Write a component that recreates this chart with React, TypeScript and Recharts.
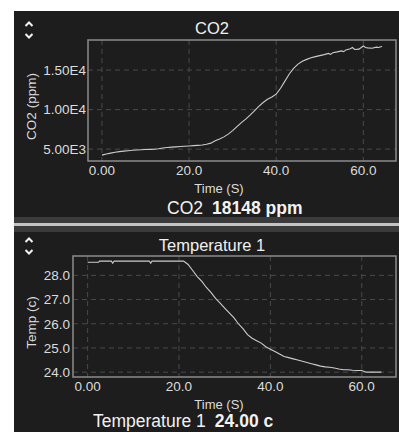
import React from 'react';
import { LineChart, Line, XAxis, YAxis, CartesianGrid, ReferenceArea } from 'recharts';

// time axis shared by both panels
const timeTicks = [0, 20, 40, 60];
const timeDomain = [-3.2, 67.5];

// CO2 panel
const co2Ticks = [5000, 10000, 15000];
const co2Domain = [3500, 18800];
const co2Times = [
  0, 1, 2, 3, 4, 5, 6, 7, 8, 9, 10, 11, 12, 13, 14, 15, 16, 17, 18, 19, 20, 21, 22, 23, 24, 25,
  26, 27, 28, 29, 30, 31, 32, 33, 34, 35, 36, 37, 38, 39, 40, 41, 42, 43, 44, 45, 46, 47, 48,
  49, 50, 51, 52, 52.5, 53, 54, 55, 55.5, 56, 57, 57.5, 58, 59, 60, 60.5, 61, 62, 63, 63.5, 64, 64.3,
];
const co2Values = [
  4240, 4380, 4500, 4600, 4680, 4750, 4800, 4850, 4890, 4920, 4950, 4970, 4990, 5050, 5150, 5200,
  5250, 5290, 5330, 5370, 5400, 5440, 5480, 5530, 5620, 5760, 6050, 6280, 6550, 6900, 7350, 7850,
  8350, 8800, 9300, 9850, 10400, 10900, 11300, 11600, 11950, 12700, 13600, 14500, 15200, 15750,
  16100, 16350, 16550, 16700, 16820, 16950, 17100, 16980, 17200, 17300, 17420, 17330, 17550, 17700,
  17850, 17600, 17650, 18050, 17850, 17800, 17750, 17900, 17850, 17950, 17980,
];

// Temperature panel
const tempTicks = [24, 25, 26, 27, 28];
const tempDomain = [23.8, 28.8];
const tempTimes = [
  0, 2.4, 2.6, 5.2, 5.5, 5.8, 13.5, 13.8, 14.1, 21, 22, 23, 24, 25, 26, 27, 28, 29, 30, 31, 32,
  33, 34, 35, 36, 37, 38, 39, 40, 41, 42, 43, 44, 45, 46, 47, 48, 49, 50, 51, 52, 53, 54, 55, 56,
  57, 58, 59, 60, 61, 62, 63, 64.3,
];
const tempValues = [
  28.54, 28.54, 28.59, 28.59, 28.5, 28.59, 28.59, 28.5, 28.59, 28.59, 28.45, 28.2, 27.95, 27.75,
  27.5, 27.3, 27.05, 26.85, 26.65, 26.45, 26.25, 26.0, 25.8, 25.55, 25.4, 25.3, 25.2, 25.05, 24.95,
  24.85, 24.75, 24.65, 24.6, 24.55, 24.5, 24.45, 24.4, 24.35, 24.3, 24.25, 24.22, 24.2, 24.17, 24.13,
  24.1, 24.1, 24.08, 24.07, 24.07, 24.0, 24.0, 24.0, 24.0,
];

const co2Data = co2Times.map((t, i) => ({ t, v: co2Values[i] }));
const tempData = tempTimes.map((t, i) => ({ t, v: tempValues[i] }));

const BG = '#1d1d1d';
const FONT = '"Liberation Sans", Arial, sans-serif';
const TICK = { fill: '#dcdcdc', fontSize: 13.5, fontFamily: FONT };

const fmtTime = (v: number) => v.toPrecision(3);
const fmtSci = (v: number) => v.toExponential(2).toUpperCase().replace('E+', 'E');
const fmtTemp = (v: number) => v.toFixed(1);

const XTitle = ({ viewBox, dx }: any) => (
  <text
    x={viewBox.x + viewBox.width / 2 + dx}
    y={viewBox.y + 27}
    fill="#dcdcdc"
    fontSize={13}
    fontFamily={FONT}
    textAnchor="middle"
    dominantBaseline="central"
  >
    Time (S)
  </text>
);

const YTitle = ({ viewBox, text }: any) => {
  const x = viewBox.x + 17.5;
  const y = viewBox.y + viewBox.height / 2 + 6;
  return (
    <text
      x={x}
      y={y}
      fill="#dcdcdc"
      fontSize={13.5}
      fontFamily={FONT}
      textAnchor="middle"
      dominantBaseline="central"
      transform={`rotate(-90 ${x} ${y})`}
    >
      {text}
    </text>
  );
};

const Chevrons = ({ top }: { top: number }) => (
  <svg style={{ position: 'absolute', left: 10, top }} width={10} height={18}>
    <polyline points="1.5,5 5,1.5 8.5,5" fill="none" stroke="#f2f2f2" strokeWidth={2} />
    <polyline points="1.5,13 5,16.5 8.5,13" fill="none" stroke="#f2f2f2" strokeWidth={2} />
  </svg>
);

const Panel = ({ title, titleY, chevTop, height, children, valueLabel, value, valueLeft, valueY }: any) => (
  <div style={{ position: 'relative', width: 385, height, background: BG, overflow: 'hidden' }}>
    <div
      style={{
        position: 'absolute', left: 0, width: 396, top: titleY - 10, height: 20, lineHeight: '20px',
        textAlign: 'center', color: '#f0f0f0', fontSize: 16.5, fontFamily: FONT,
      }}
    >
      {title}
    </div>
    <Chevrons top={chevTop} />
    {children}
    <div
      style={{
        position: 'absolute', left: valueLeft, top: valueY - 10, height: 20, lineHeight: '20px',
        color: '#f2f2f2', fontSize: 17.5, fontFamily: FONT, whiteSpace: 'nowrap',
      }}
    >
      {valueLabel}
      <span style={{ fontWeight: 'bold', marginLeft: 9 }}>{value}</span>
    </div>
  </div>
);

export default function App() {
  return (
    <div style={{ position: 'absolute', left: 14, top: 11, width: 385, height: 421 }}>
      <Panel title="CO2" titleY={17} chevTop={10} height={206} valueLabel="CO2" value="18148 ppm" valueLeft={153} valueY={197}>
        <LineChart width={385} height={206} data={co2Data} margin={{ top: 29, right: 3, left: 0, bottom: 0 }}>
          <CartesianGrid stroke="#4a4a4a" strokeDasharray="5 4" horizontalValues={co2Ticks} verticalValues={timeTicks} />
          <XAxis
            dataKey="t"
            type="number"
            domain={timeDomain}
            ticks={timeTicks}
            tickFormatter={fmtTime}
            allowDataOverflow
            height={56}
            axisLine={false}
            tickLine={false}
            tickSize={0}
            tickMargin={4}
            tick={TICK}
            label={(p: any) => <XTitle {...p} dx={-23} />}
          />
          <YAxis
            type="number"
            domain={co2Domain}
            ticks={co2Ticks}
            tickFormatter={fmtSci}
            allowDataOverflow
            width={74}
            axisLine={false}
            tickLine={false}
            tickSize={0}
            tickMargin={2}
            tick={TICK}
            label={(p: any) => <YTitle {...p} text="CO2 (ppm)" />}
          />
          <ReferenceArea x1={timeDomain[0]} x2={timeDomain[1]} y1={co2Domain[0]} y2={co2Domain[1]} fill="none" stroke="#8c8c8c" strokeWidth={1.5} fillOpacity={0} strokeOpacity={1} />
          <Line type="linear" dataKey="v" stroke="#cccccc" strokeWidth={1.1} dot={false} isAnimationActive={false} />
        </LineChart>
      </Panel>
      <div style={{ width: 385, height: 15, background: '#3b3b3b', position: 'relative' }}>
        <div style={{ position: 'absolute', left: 0, top: 6, width: 385, height: 3, background: '#c4c4c4' }} />
      </div>
      <Panel title="Temperature 1" titleY={13} chevTop={5} height={200} valueLabel="Temperature 1" value="24.00 c" valueLeft={79} valueY={189}>
        <LineChart width={385} height={200} data={tempData} margin={{ top: 24, right: 3, left: 0, bottom: 0 }}>
          <CartesianGrid stroke="#4a4a4a" strokeDasharray="5 4" horizontalValues={tempTicks} verticalValues={timeTicks} />
          <XAxis
            dataKey="t"
            type="number"
            domain={timeDomain}
            ticks={timeTicks}
            tickFormatter={fmtTime}
            allowDataOverflow
            height={55}
            axisLine={false}
            tickLine={false}
            tickSize={0}
            tickMargin={4}
            tick={TICK}
            label={(p: any) => <XTitle {...p} dx={-15.5} />}
          />
          <YAxis
            type="number"
            domain={tempDomain}
            ticks={tempTicks}
            tickFormatter={fmtTemp}
            allowDataOverflow
            width={59}
            axisLine={false}
            tickLine={false}
            tickSize={0}
            tickMargin={3}
            tick={TICK}
            label={(p: any) => <YTitle {...p} text="Temp (c)" />}
          />
          <ReferenceArea x1={timeDomain[0]} x2={timeDomain[1]} y1={tempDomain[0]} y2={tempDomain[1]} fill="none" stroke="#8c8c8c" strokeWidth={1.5} fillOpacity={0} strokeOpacity={1} />
          <Line type="linear" dataKey="v" stroke="#cccccc" strokeWidth={1.1} dot={false} isAnimationActive={false} />
        </LineChart>
      </Panel>
    </div>
  );
}
